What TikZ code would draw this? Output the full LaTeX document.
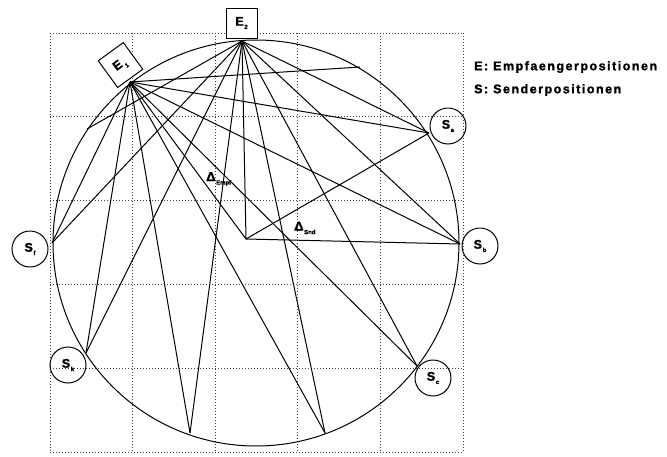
\documentclass[tikz,border=0pt]{standalone}
\usepackage{fontspec}
\setmainfont{Liberation Sans}
\newcommand\lowsub[1]{\kern0.6pt\raisebox{-0.5ex}{\fontsize{6}{6}\selectfont #1}}
\begin{document}
\begin{tikzpicture}[x=1pt,y=-1pt,
  gridline/.style={black!75,line width=0.9pt,dash pattern=on 0.8pt off 2.2pt},
  wire/.style={line width=1pt},
  heavy/.style={font=\bfseries\fontsize{12.5}{12.5}\selectfont\addfontfeature{FakeBold=1.5}},
  sndnode/.style={circle,draw,line width=1pt,minimum size=36pt,inner sep=0pt,heavy},
  rcvnode/.style={rectangle,draw,line width=1pt,minimum width=31pt,minimum height=30pt,
    inner sep=0pt,heavy},
  legend/.style={anchor=west,inner sep=0pt,
    font=\bfseries\fontsize{12.5}{12.5}\selectfont\addfontfeature{LetterSpace=12,FakeBold=1.5}},
  deltalabel/.style={inner sep=0pt,font=\bfseries\fontsize{13}{13}\selectfont\addfontfeature{FakeBold=1.5}}]
\useasboundingbox (0,0) rectangle (667,456);
% grid
\foreach \gx in {50,132.6,215.2,297.8,380.4,463}
  \draw[gridline] (\gx,33) -- (\gx,452);
\foreach \gy in {33,116.8,200.6,284.4,368.2,452}
  \draw[gridline] (50,\gy) -- (463,\gy);
% circle
\node[circle,draw,line width=1pt,minimum size=406pt,inner sep=0pt] (ring) at (256,243) {};
% positions
\coordinate (E2) at (242,41);
\coordinate (E1) at (130,82);
\coordinate (Sa) at (429,133);
\coordinate (Sb) at (460,244);
\coordinate (Sc) at (417,366);
\coordinate (Sd) at (325,433);
\coordinate (Se) at (190,433);
\coordinate (Sk) at (86,353);
\coordinate (Sf) at (52,243);
\coordinate (Pl) at (87,129);
\coordinate (Pr) at (360,67);
\coordinate (C) at (246,239);
% connectors from E2
\foreach \t in {Pl,Sf,Sk,Se,C,Sd,Sc,Sb,Sa}
  \draw[wire] (E2) -- (\t);
% connectors from E1
\foreach \t in {Pr,Sa,Sb,C,Sc,Sd,Se,Sk,Sf}
  \draw[wire] (E1) -- (\t);
\draw[wire] (C) -- (Sa);
\draw[wire] (C) -- (Sb);
% receiver boxes
\node[rcvnode,fill=white] (boxE2) at (241.5,23) {E\lowsub{2}};
\node[rcvnode,fill=white,rotate=36,minimum height=33pt] (boxE1) at (120.5,65) {E\kern1.2pt\lowsub{1}};
% sender circles
\node[sndnode] (ca) at (448,126) {S\lowsub{a}};
\node[sndnode] (cb) at (480,246) {S\lowsub{b}};
\node[sndnode] (cc) at (433,378) {S\lowsub{c}};
\node[sndnode] (ck) at (68,365) {S\lowsub{k}};
\node[sndnode] (cf) at (30,249) {S\lowsub{f}};
% delta labels
\node[deltalabel,anchor=west] (dE) at (206,179) {Δ\lowsub{Empf}};
\node[deltalabel,anchor=west] (dS) at (294,228) {Δ\lowsub{Snd}};
% legend
\node[legend] (leg1) at (474,67) {E: Empfaengerpositionen};
\node[legend] (leg2) at (474,90) {S: Senderpositionen};
\end{tikzpicture}
\end{document}
